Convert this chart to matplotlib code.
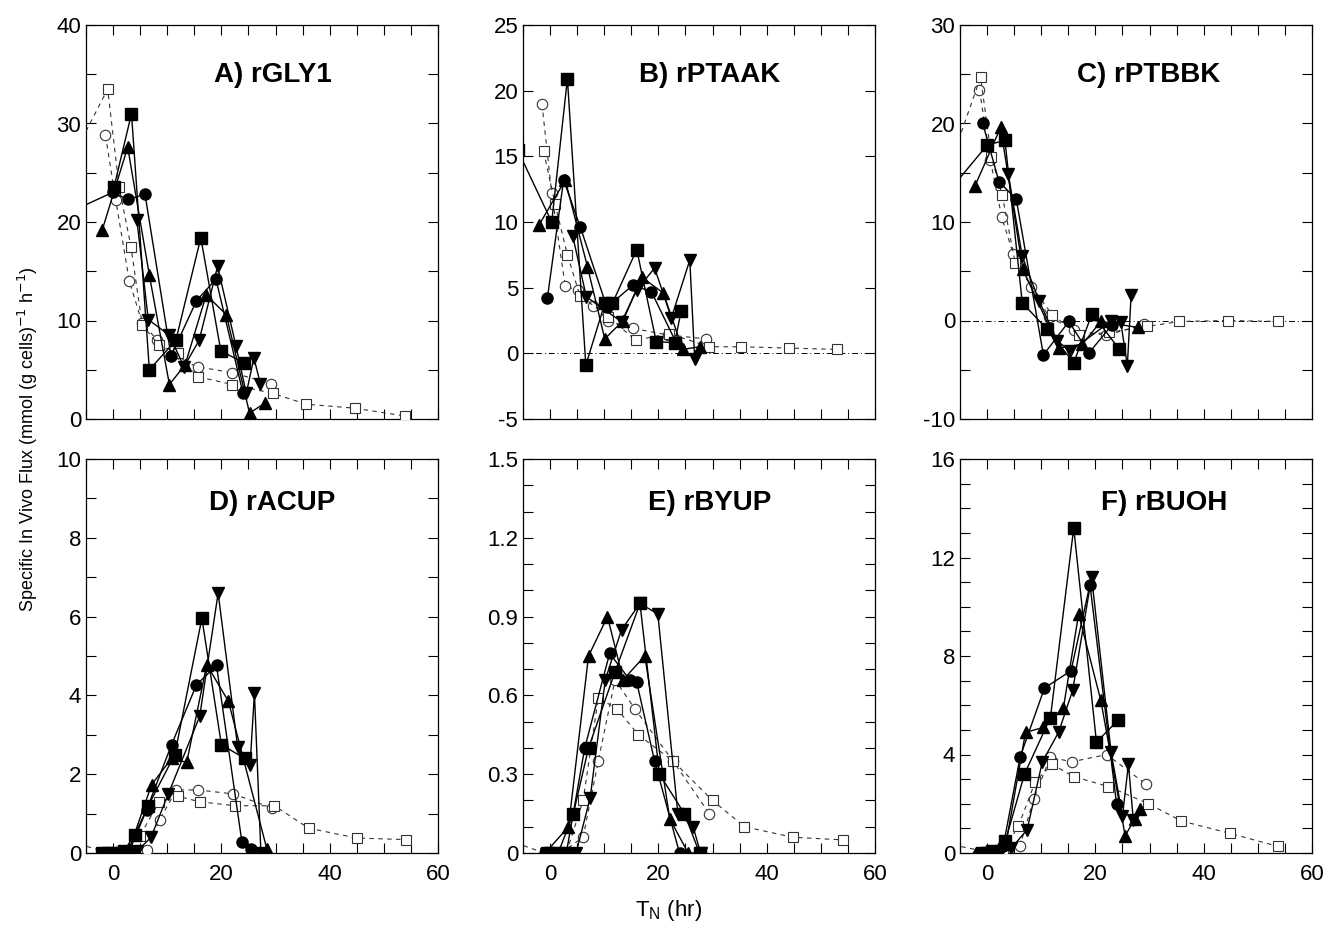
import matplotlib
matplotlib.use("Agg")
import matplotlib.pyplot as plt
from matplotlib.ticker import MultipleLocator, FixedLocator, FuncFormatter

plt.rcParams['font.family'] = ['Liberation Sans', 'DejaVu Sans']

# ---------------- data: (T_N [hr], flux) ----------------
# Panel A  rGLY1
A_fcirc = [(-8, 21), (-0.1, 23), (2.7, 22.3), (5.9, 22.8), (10.7, 6.4), (15.4, 12), (19, 14.2), (24, 2.6)]
A_fsq = [(0.2, 23.6), (3.4, 31), (6.7, 5), (11.6, 8), (16.2, 18.4), (19.9, 6.9), (24.2, 5.7)]
A_fup = [(-2, 19.2), (2.7, 27.6), (6.7, 14.6), (10.4, 3.5), (13.3, 5.5), (17.2, 12.6), (20.9, 10.6), (25.2, 0.6), (28, 1.6)]
A_fdn = [(4.4, 20.2), (6.5, 10.1), (10.4, 8.5), (13.1, 5.3), (15.9, 8), (19.3, 15.5), (22.7, 7.4), (24.6, 2.6), (26, 6.2), (27.2, 3.6)]
A_ocirc = [(-1.4, 28.8), (0.5, 22.2), (3, 14), (5.4, 9.7), (8.2, 8), (10.7, 6.4), (15.6, 5.3), (22, 4.7), (29.2, 3.6)]
A_osq = [(-8, 26), (-1, 33.5), (1.1, 23.6), (3.3, 17.5), (5.4, 9.5), (8.5, 7.5), (11.9, 6.7), (15.6, 4.3), (22, 3.5),
         (29.5, 2.6), (35.7, 1.5), (44.6, 1.1), (53.9, 0.3)]

# Panel B  rPTAAK
B_fcirc = [(-0.5, 4.2), (2.5, 13.2), (5.6, 9.6), (10.5, 3.5), (15.3, 5.2), (18.7, 4.7), (23.3, 0.8)]
B_fsq = [(-6, 15.5), (0.3, 10), (3.2, 20.9), (6.6, -0.9), (10.1, 3.8), (11.5, 3.8), (16, 7.9), (19.6, 0.9), (23, 0.8), (24.2, 3.2)]
B_fup = [(-2, 9.8), (2.8, 13.2), (6.9, 6.6), (10.1, 1.1), (13.5, 2.5), (16.9, 5.8), (20.9, 4.6), (24.5, 0.3), (27.6, 0.5)]
B_fdn = [(4.2, 8.9), (6.7, 4.3), (13.2, 2.4), (16, 4.8), (19.3, 6.5), (22.4, 2.7), (25.8, 7.1), (26.7, -0.4)]
B_ocirc = [(-1.5, 19), (0.3, 12.2), (2.8, 5.1), (5.2, 4.8), (8, 3.6), (10.7, 2.5), (15.3, 1.9), (21.8, 1.4), (28.8, 1.1)]
B_osq = [(-1.2, 15.4), (0.9, 11.4), (3.2, 7.5), (5.5, 4.4), (10.7, 2.8), (15.8, 1.0), (22, 1.5), (29.4, 0.5),
         (35.3, 0.5), (44.2, 0.4), (53, 0.3)]

# Panel C  rPTBBK
C_fcirc = [(-0.8, 20), (2.2, 14.1), (5.4, 12.3), (10.4, -3.5), (15.1, -0.1), (18.8, -3.3), (23, -0.5)]
C_fsq = [(-8, 12.5), (0, 17.8), (3.3, 18.3), (6.5, 1.8), (11.1, -0.9), (16, -4.3), (19.4, 0.7), (24.4, -2.9)]
C_fup = [(-2.2, 13.7), (2.5, 19.6), (6.6, 5.2), (13.3, -2.8), (17.6, -2.4), (21, -0.1), (27.8, -0.7)]
C_fdn = [(3.9, 14.9), (6.5, 6.5), (9.6, 2), (13, -2.1), (15.4, -3.1), (22.8, -0.1), (24.7, -0.2), (25.9, -4.6), (26.6, 2.6)]
C_ocirc = [(-1.4, 23.4), (0.6, 16.3), (2.7, 10.5), (4.8, 6.8), (8.2, 3.4), (11.4, 0.4), (16, -1), (22, -1.5), (29, -0.4)]
C_osq = [(-8, 14), (-1.2, 24.7), (0.8, 16.6), (2.8, 12.7), (5.2, 5.8), (12, 0.6), (17, -1.5), (22.5, -1.2),
         (29.6, -0.6), (35.5, -0.1), (44.4, 0), (53.7, -0.1)]

# Panel D  rACUP
D_fcirc = [(-1.5, 0), (1, 0), (3, 0.05), (6.2, 1.1), (10.8, 2.75), (15.4, 4.27), (19.1, 4.76), (23.8, 0.27), (25.5, 0.1)]
D_fsq = [(-2, 0), (0, 0), (2, 0.05), (4, 0.46), (6.5, 1.2), (11.4, 2.5), (16.4, 5.96), (20, 2.75), (24.3, 2.4)]
D_fup = [(-2.2, 0), (0.5, 0), (3, 0.1), (7.1, 1.73), (10.8, 2.4), (13.6, 2.3), (17.3, 4.78), (21.3, 3.85), (28.4, 0.1)]
D_fdn = [(-1, 0), (1.5, 0), (4.5, 0.05), (7, 0.4), (10.2, 1.5), (16, 3.47), (19.4, 6.6), (23, 2.7), (25.3, 2.24),
         (26.1, 4.06), (27.3, 0)]
D_ocirc = [(-0.5, 0), (2, 0), (6.2, 0.08), (8.6, 0.85), (11.7, 1.6), (15.7, 1.6), (22.2, 1.5), (29.4, 1.14)]
D_osq = [(-8, 0.3), (-0.8, 0), (2.5, 0.05), (4.9, 0.42), (8.5, 1.3), (12, 1.44), (16, 1.3), (22.5, 1.2),
         (29.8, 1.2), (36.1, 0.63), (45, 0.38), (54, 0.34)]

# Panel E  rBYUP
E_fcirc = [(-1, 0), (1, 0), (3, 0), (6.4, 0.4), (11, 0.76), (14.7, 0.66), (16, 0.65), (19.3, 0.35), (23.9, 0)]
E_fsq = [(-0.5, 0), (1.5, 0), (4.3, 0.15), (7.1, 0.4), (12, 0.69), (16.6, 0.95), (20.2, 0.3), (24.8, 0.15), (27.6, 0)]
E_fup = [(-0.9, 0), (3.4, 0.1), (7.1, 0.75), (10.6, 0.9), (13.5, 0.66), (17.5, 0.75), (22.1, 0.13), (25.5, 0), (28.2, 0)]
E_fdn = [(0, 0), (2.5, 0), (4.8, 0), (7.4, 0.21), (10.2, 0.66), (13.2, 0.85), (16.6, 0.95), (19.9, 0.91),
         (23.6, 0.15), (26.4, 0.1), (27.8, 0)]
E_ocirc = [(2, 0), (6.1, 0.06), (8.9, 0.35), (12, 0.66), (15.6, 0.55), (22.7, 0.35), (29.4, 0.15)]
E_osq = [(-8, 0.05), (-1, 0), (3, 0), (6.1, 0.2), (8.9, 0.59), (12.3, 0.55), (16.3, 0.45), (22.7, 0.35),
         (30, 0.2), (35.9, 0.1), (44.8, 0.06), (54, 0.05)]

# Panel F  rBUOH
F_fcirc = [(-1.5, 0), (0.5, 0.1), (3, 0.3), (6.1, 3.9), (10.6, 6.7), (15.5, 7.4), (19, 10.9), (23.9, 2)]
F_fsq = [(-1, 0), (1, 0.1), (3.4, 0.5), (6.9, 3.2), (11.7, 5.5), (16, 13.2), (20.2, 4.5), (24.2, 5.4)]
F_fup = [(-2, 0), (1, 0.1), (3.5, 0.4), (7.1, 4.9), (10.4, 5.1), (14.1, 5.9), (16.9, 9.7), (21, 6.2), (25.5, 0.7),
         (27.3, 1.4), (28.2, 1.8)]
F_fdn = [(0, 0), (2.5, 0.1), (4.5, 0.2), (7.4, 0.95), (10.2, 3.7), (13.2, 4.9), (15.8, 6.6), (19.3, 11.2),
         (22.9, 4.1), (25, 1.5), (26.1, 3.6), (27, 1.35)]
F_ocirc = [(-0.5, 0), (2, 0), (6.1, 0.3), (8.6, 2.2), (11.7, 3.9), (15.6, 3.7), (22.1, 4), (29.3, 2.8)]
F_osq = [(-8, 0.4), (0, 0.05), (3, 0.1), (5.8, 1.1), (8.9, 2.9), (12, 3.6), (16, 3.1), (22.4, 2.7), (29.8, 2),
         (35.9, 1.3), (44.8, 0.8), (53.7, 0.27)]

titles = ["A) rGLY1", "B) rPTAAK", "C) rPTBBK", "D) rACUP", "E) rBYUP", "F) rBUOH"]
ylims = [(0, 40), (-5, 25), (-10, 30), (0, 10), (0, 1.5), (0, 16)]
ymajor = [10, 5, 10, 2, 0.3, 4]
yminor = [5, 5, 5, 1, 0.1, 1]
panels = [
    (A_fcirc, A_fsq, A_fup, A_fdn, A_ocirc, A_osq),
    (B_fcirc, B_fsq, B_fup, B_fdn, B_ocirc, B_osq),
    (C_fcirc, C_fsq, C_fup, C_fdn, C_ocirc, C_osq),
    (D_fcirc, D_fsq, D_fup, D_fdn, D_ocirc, D_osq),
    (E_fcirc, E_fsq, E_fup, E_fdn, E_ocirc, E_osq),
    (F_fcirc, F_fsq, F_fup, F_fdn, F_ocirc, F_osq),
]

W, H = 1337, 934
fig = plt.figure(figsize=(W / 100, H / 100), dpi=100)

lefts = [86, 523, 960]
tops = [25, 459]
aw, ah = 352, 394
title_pos = [(0.53, 0.873), (0.53, 0.873), (0.535, 0.873), (0.53, 0.888), (0.53, 0.888), (0.58, 0.888)]

styles = [
    dict(marker='o', ms=8, mfc='black', mec='black', ls='-', lw=1.0, color='black'),
    dict(marker='s', ms=8.5, mfc='black', mec='black', ls='-', lw=1.0, color='black'),
    dict(marker='^', ms=9, mfc='black', mec='black', ls='-', lw=1.0, color='black'),
    dict(marker='v', ms=9, mfc='black', mec='black', ls='-', lw=1.0, color='black'),
    dict(marker='o', ms=7.5, mfc='white', mec='#333333', mew=0.8, ls=(0, (4, 4)), lw=0.8, color='#333333'),
    dict(marker='s', ms=7.5, mfc='white', mec='#333333', mew=0.8, ls=(0, (4, 4)), lw=0.8, color='#333333'),
]
zorders = [5, 5, 5, 5, 3, 3]


def yfmt(v, pos, step):
    if abs(v) < 1e-9:
        return "0"
    if step < 1:
        return f"{v:.1f}"
    return f"{v:.0f}"


for i, series in enumerate(panels):
    r, c = divmod(i, 3)
    left = lefts[c] / W
    bottom = 1 - (tops[r] + ah) / H
    ax = fig.add_axes([left, bottom, aw / W, ah / H])
    ax.set_xlim(-5, 60)
    ax.set_ylim(*ylims[i])
    if i in (1, 2):
        ax.axhline(0, color='black', lw=0.7, ls=(0, (6, 3, 1, 3)), zorder=1)
    for k in (4, 5, 0, 1, 2, 3):
        pts = series[k]
        ax.plot([p[0] for p in pts], [p[1] for p in pts], zorder=zorders[k], clip_on=True, **styles[k])
    ax.xaxis.set_major_locator(FixedLocator([0, 20, 40, 60]))
    ax.xaxis.set_minor_locator(MultipleLocator(5))
    ax.yaxis.set_major_locator(MultipleLocator(ymajor[i]))
    ax.yaxis.set_minor_locator(MultipleLocator(yminor[i]))
    step = ymajor[i]
    ax.yaxis.set_major_formatter(FuncFormatter(lambda v, p, s=step: yfmt(v, p, s)))
    ax.tick_params(which='both', direction='in', top=True, right=True, length=7, width=0.8, labelsize=16)
    ax.tick_params(axis='x', pad=8)
    if r == 0:
        ax.tick_params(axis='x', labelbottom=False)
    for sp in ax.spines.values():
        sp.set_linewidth(0.9)
    tx, ty = title_pos[i]
    ax.text(tx, ty, titles[i], transform=ax.transAxes, ha='center', va='center',
            fontsize=20, fontweight='bold')

fig.text(0.021, 0.53, "Specific In Vivo Flux (mmol (g cells)$^{-1}$ h$^{-1}$)", rotation=90,
         ha='center', va='center', fontsize=13)
fig.text(0.5, 0.025, "T$_\\mathregular{N}$ (hr)", ha='center', va='center', fontsize=16)

fig.savefig("out.png", dpi=100)
